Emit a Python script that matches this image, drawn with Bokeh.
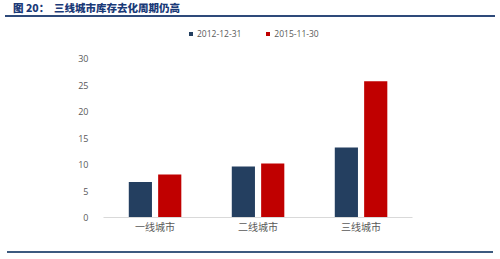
from bokeh.plotting import figure
from bokeh.models import (ColumnDataSource, FactorRange, Legend, LegendItem, Range1d, Div)
from bokeh.layouts import column
from bokeh.transform import dodge
from bokeh.embed import file_html
from bokeh.resources import INLINE

# ---- data ----
categories = ["一线城市", "二线城市", "三线城市"]
series_names = ["2012-12-31", "2015-11-30"]
values_2012 = [6.7, 9.6, 13.2]
values_2015 = [8.1, 10.2, 25.7]
y_ticks = [0, 5, 10, 15, 20, 25, 30]
title_text = "图 20：  三线城市库存去化周期仍高"

NAVY = "#243F60"
RED = "#C00000"
GRAY = "#595959"
CJK = "Noto Sans CJK SC"

src = ColumnDataSource(dict(cat=categories, a=values_2012, b=values_2015))

# frame: 192px tall, 0..30 occupies bottom 159px -> extra headroom for legend
p = figure(width=500, height=227, x_range=FactorRange(*categories, range_padding=0),
           y_range=Range1d(0, 30 * 192 / 159), output_backend="svg",
           toolbar_location=None,
           min_border_left=103, min_border_right=88, min_border_top=5,
           min_border_bottom=30, background_fill_color="white",
           border_fill_color="white", outline_line_color=None, margin=0)

r1 = p.vbar(x=dodge("cat", -0.142, range=p.x_range), top="a", width=0.225,
            source=src, fill_color=NAVY, line_color=None)
r2 = p.vbar(x=dodge("cat", 0.143, range=p.x_range), top="b", width=0.225,
            source=src, fill_color=RED, line_color=None)

p.xgrid.grid_line_color = None
p.ygrid.grid_line_color = None

p.xaxis.axis_line_color = "#D9D9D9"
p.xaxis.major_tick_line_color = None
p.xaxis.minor_tick_line_color = None
p.xaxis.major_tick_out = 0
p.xaxis.major_label_text_font = CJK
p.xaxis.major_label_text_font_size = "10px"
p.xaxis.major_label_text_color = GRAY
p.xaxis.major_label_standoff = 1

p.yaxis.ticker = y_ticks
p.yaxis.axis_line_color = None
p.yaxis.major_tick_line_color = None
p.yaxis.minor_tick_line_color = None
p.yaxis.major_label_text_font = "Open Sans"
p.yaxis.major_label_text_font_size = "9px"
p.yaxis.major_label_text_color = GRAY
p.yaxis.major_label_standoff = 9

legend = Legend(items=[LegendItem(label=series_names[0], renderers=[r1]),
                       LegendItem(label=series_names[1], renderers=[r2])],
                orientation="horizontal", location=(85, 178),
                glyph_width=5, glyph_height=5, label_standoff=4, spacing=24,
                padding=0, margin=0, border_line_color=None,
                background_fill_alpha=0,
                label_text_font="Open Sans", label_text_font_size="8.5px",
                label_text_color=GRAY, label_height=10)
p.add_layout(legend, "center")

head = Div(width=500, height=20, margin=0, text=(
    '<div style="position:relative;width:500px;height:20px;">'
    '<span style="position:absolute;left:13px;top:1px;font-family:\'Noto Sans CJK SC\';'
    'font-weight:900;font-size:10.5px;line-height:14px;color:#1A3A78;white-space:pre;">'
    + title_text + '</span>'
    '<div style="position:absolute;left:5px;width:490px;top:15px;height:1.5px;'
    'background:#2E4A7A;"></div></div>'))

foot = Div(width=500, height=12, margin=0, text=(
    '<div style="position:relative;width:500px;height:12px;">'
    '<div style="position:absolute;left:7px;width:486px;top:4px;height:1.5px;'
    'background:#3C5A7F;"></div></div>'))

layout = column(head, p, foot, spacing=0, margin=0)

open("out.html", "w").write(file_html(layout, INLINE))
